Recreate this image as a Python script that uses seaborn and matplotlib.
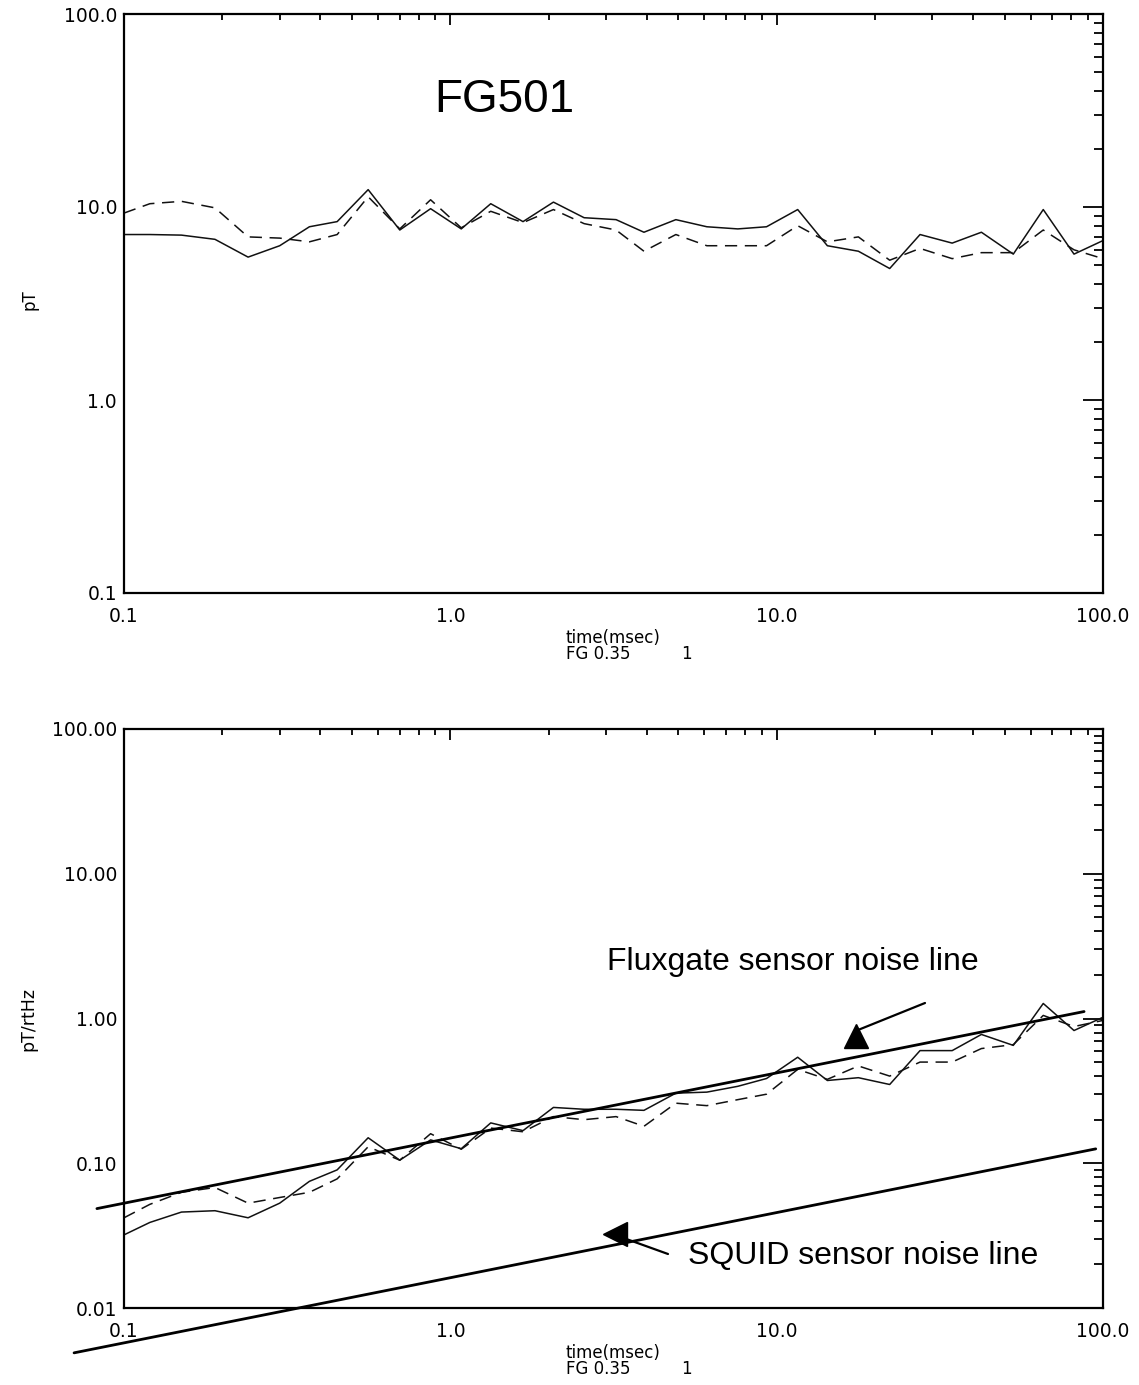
import numpy as np
import pandas as pd
import matplotlib
matplotlib.use("Agg")
import matplotlib.pyplot as plt
import seaborn as sns
from matplotlib.ticker import FixedLocator, FixedFormatter, LogLocator, NullFormatter
from matplotlib.lines import Line2D

# ---------------- data ----------------
times = [0.10, 0.12, 0.15, 0.19, 0.24, 0.30, 0.37, 0.45, 0.56, 0.70, 0.87, 1.08,
         1.33, 1.67, 2.07, 2.57, 3.22, 3.92, 4.91, 6.11, 7.60, 9.31, 11.6, 14.3,
         17.8, 22.2, 27.5, 34.5, 42.4, 53.1, 65.6, 81.5, 100.0]

top_solid = [7.2, 7.2, 7.15, 6.8, 5.5, 6.3, 7.9, 8.4, 12.3, 7.6, 9.8, 7.7,
             10.4, 8.4, 10.6, 8.8, 8.6, 7.4, 8.6, 7.9, 7.7, 7.9, 9.7, 6.3,
             5.9, 4.8, 7.2, 6.5, 7.4, 5.7, 9.7, 5.7, 6.7]
top_dashed = [9.3, 10.4, 10.7, 9.9, 7.0, 6.9, 6.6, 7.2, 11.3, 7.7, 10.9, 7.8,
              9.5, 8.3, 9.7, 8.2, 7.6, 5.9, 7.2, 6.3, 6.3, 6.3, 8.0, 6.6,
              7.0, 5.3, 6.1, 5.4, 5.8, 5.8, 7.6, 6.0, 5.4]

bot_solid = [0.032, 0.039, 0.046, 0.047, 0.042, 0.053, 0.075, 0.09, 0.15, 0.105, 0.145, 0.126,
             0.19, 0.168, 0.243, 0.236, 0.236, 0.232, 0.305, 0.31, 0.34, 0.385, 0.54, 0.373,
             0.39, 0.35, 0.60, 0.60, 0.776, 0.652, 1.27, 0.826, 1.02]
bot_dashed = [0.042, 0.052, 0.063, 0.068, 0.053, 0.058, 0.063, 0.078, 0.13, 0.105, 0.16, 0.125,
              0.175, 0.165, 0.21, 0.20, 0.21, 0.18, 0.26, 0.25, 0.275, 0.30, 0.445, 0.38,
              0.47, 0.40, 0.50, 0.50, 0.62, 0.66, 1.05, 0.88, 0.97]

# sensor noise reference lines (end points)
fluxgate_x = [0.0826, 87.5]
fluxgate_y = [0.0486, 1.117]
squid_x = [0.0703, 95.0]
squid_y = [0.0049, 0.1257]

x_ticks = [0.1, 1.0, 10.0, 100.0]
x_ticklabels = ["0.1", "1.0", "10.0", "100.0"]
top_yticks = [0.1, 1.0, 10.0, 100.0]
top_yticklabels = ["0.1", "1.0", "10.0", "100.0"]
bot_yticks = [0.01, 0.1, 1.0, 10.0, 100.0]
bot_yticklabels = ["0.01", "0.10", "1.00", "10.00", "100.00"]

# ---------------- figure ----------------
sns.set_theme(style="white")
plt.rcParams["font.family"] = ["DejaVu Sans"]
plt.rcParams["text.color"] = "black"
plt.rcParams["axes.labelcolor"] = "black"
plt.rcParams["xtick.color"] = "black"
plt.rcParams["ytick.color"] = "black"

W, H = 1139, 1385
fig = plt.figure(figsize=(W / 100, H / 100), dpi=100)
fig.patch.set_facecolor("white")

ax1 = fig.add_axes([124 / W, 1 - 593 / H, 979 / W, 579 / H])
ax2 = fig.add_axes([124 / W, 1 - 1308 / H, 979 / W, 579 / H])

df_top = pd.DataFrame({"t": times, "solid": top_solid, "dashed": top_dashed})
df_bot = pd.DataFrame({"t": times, "solid": bot_solid, "dashed": bot_dashed})

for ax, df in ((ax1, df_top), (ax2, df_bot)):
    sns.lineplot(data=df, x="t", y="solid", ax=ax, color="#111111", lw=1.1,
                 estimator=None, sort=False)
    sns.lineplot(data=df, x="t", y="dashed", ax=ax, color="#111111", lw=1.1,
                 estimator=None, sort=False, linestyle=(0, (8, 5)))


def style(ax, yticks, yticklabels, ylim):
    ax.set_xscale("log")
    ax.set_yscale("log")
    ax.set_xlim(0.1, 100)
    ax.set_ylim(*ylim)
    ax.xaxis.set_major_locator(FixedLocator(x_ticks))
    ax.xaxis.set_major_formatter(FixedFormatter(x_ticklabels))
    ax.xaxis.set_minor_locator(LogLocator(base=10, subs=np.arange(2, 10), numticks=30))
    ax.xaxis.set_minor_formatter(NullFormatter())
    ax.yaxis.set_major_locator(FixedLocator(yticks))
    ax.yaxis.set_major_formatter(FixedFormatter(yticklabels))
    ax.yaxis.set_minor_locator(LogLocator(base=10, subs=np.arange(2, 10), numticks=30))
    ax.yaxis.set_minor_formatter(NullFormatter())
    ax.tick_params(which="both", direction="in", top=True, right=True,
                   colors="black", labelsize=13.5)
    ax.tick_params(axis="y", which="major", length=14.5, width=1.3, pad=5)
    ax.tick_params(axis="y", which="minor", length=6.5, width=1.3)
    ax.tick_params(axis="x", which="major", length=8, width=1.3, pad=10)
    ax.tick_params(axis="x", which="minor", length=4.5, width=1.3)
    for sp in ax.spines.values():
        sp.set_linewidth(1.6)
        sp.set_color("black")
    ax.set_xlabel("")
    ax.set_ylabel("")
    ax.set_facecolor("white")


style(ax1, top_yticks, top_yticklabels, (0.1, 100))
style(ax2, bot_yticks, bot_yticklabels, (0.01, 100))

# noise lines (extend beyond axes)
ax2.plot(fluxgate_x, fluxgate_y, color="black", lw=2.0, clip_on=False)
ax2.plot(squid_x, squid_y, color="black", lw=2.0, clip_on=False)


def ftext(x, y, s, **kw):
    fig.text(x / W, 1 - y / H, s, **kw)


# axis labels
ftext(30, 300, "pT", rotation=90, ha="center", va="center", fontsize=12)
ftext(28, 1019, "pT/rtHz", rotation=90, ha="center", va="center", fontsize=12.5)
for ybase in (593, 1308):
    ftext(613, ybase + 45, "time(msec)", ha="center", va="center", fontsize=12)
    ftext(566, ybase + 61, "FG 0.35", ha="left", va="center", fontsize=12)
    ftext(686, ybase + 61, "1", ha="center", va="center", fontsize=12)

# annotations
ftext(504, 100, "FG501", ha="center", va="center", fontsize=33,
      family=["Liberation Sans", "DejaVu Sans"])
ftext(793, 962, "Fluxgate sensor noise line", ha="center", va="center", fontsize=23,
      family=["Liberation Sans", "DejaVu Sans"])
ftext(863, 1256, "SQUID sensor noise line", ha="center", va="center", fontsize=23,
      family=["Liberation Sans", "DejaVu Sans"])


def farrow(x0, y0, x1, y1, marker, mx, my):
    fig.add_artist(Line2D([x0 / W, x1 / W], [1 - y0 / H, 1 - y1 / H],
                          transform=fig.transFigure, color="black", lw=1.6))
    fig.add_artist(Line2D([mx / W], [1 - my / H], transform=fig.transFigure,
                          marker=marker, markersize=17, color="black", lw=0))


farrow(925, 1003, 858, 1030, "^", 856, 1036)
farrow(668, 1254, 618, 1236, "<", 615, 1234)

fig.savefig("out.png", dpi=100, facecolor="white")
